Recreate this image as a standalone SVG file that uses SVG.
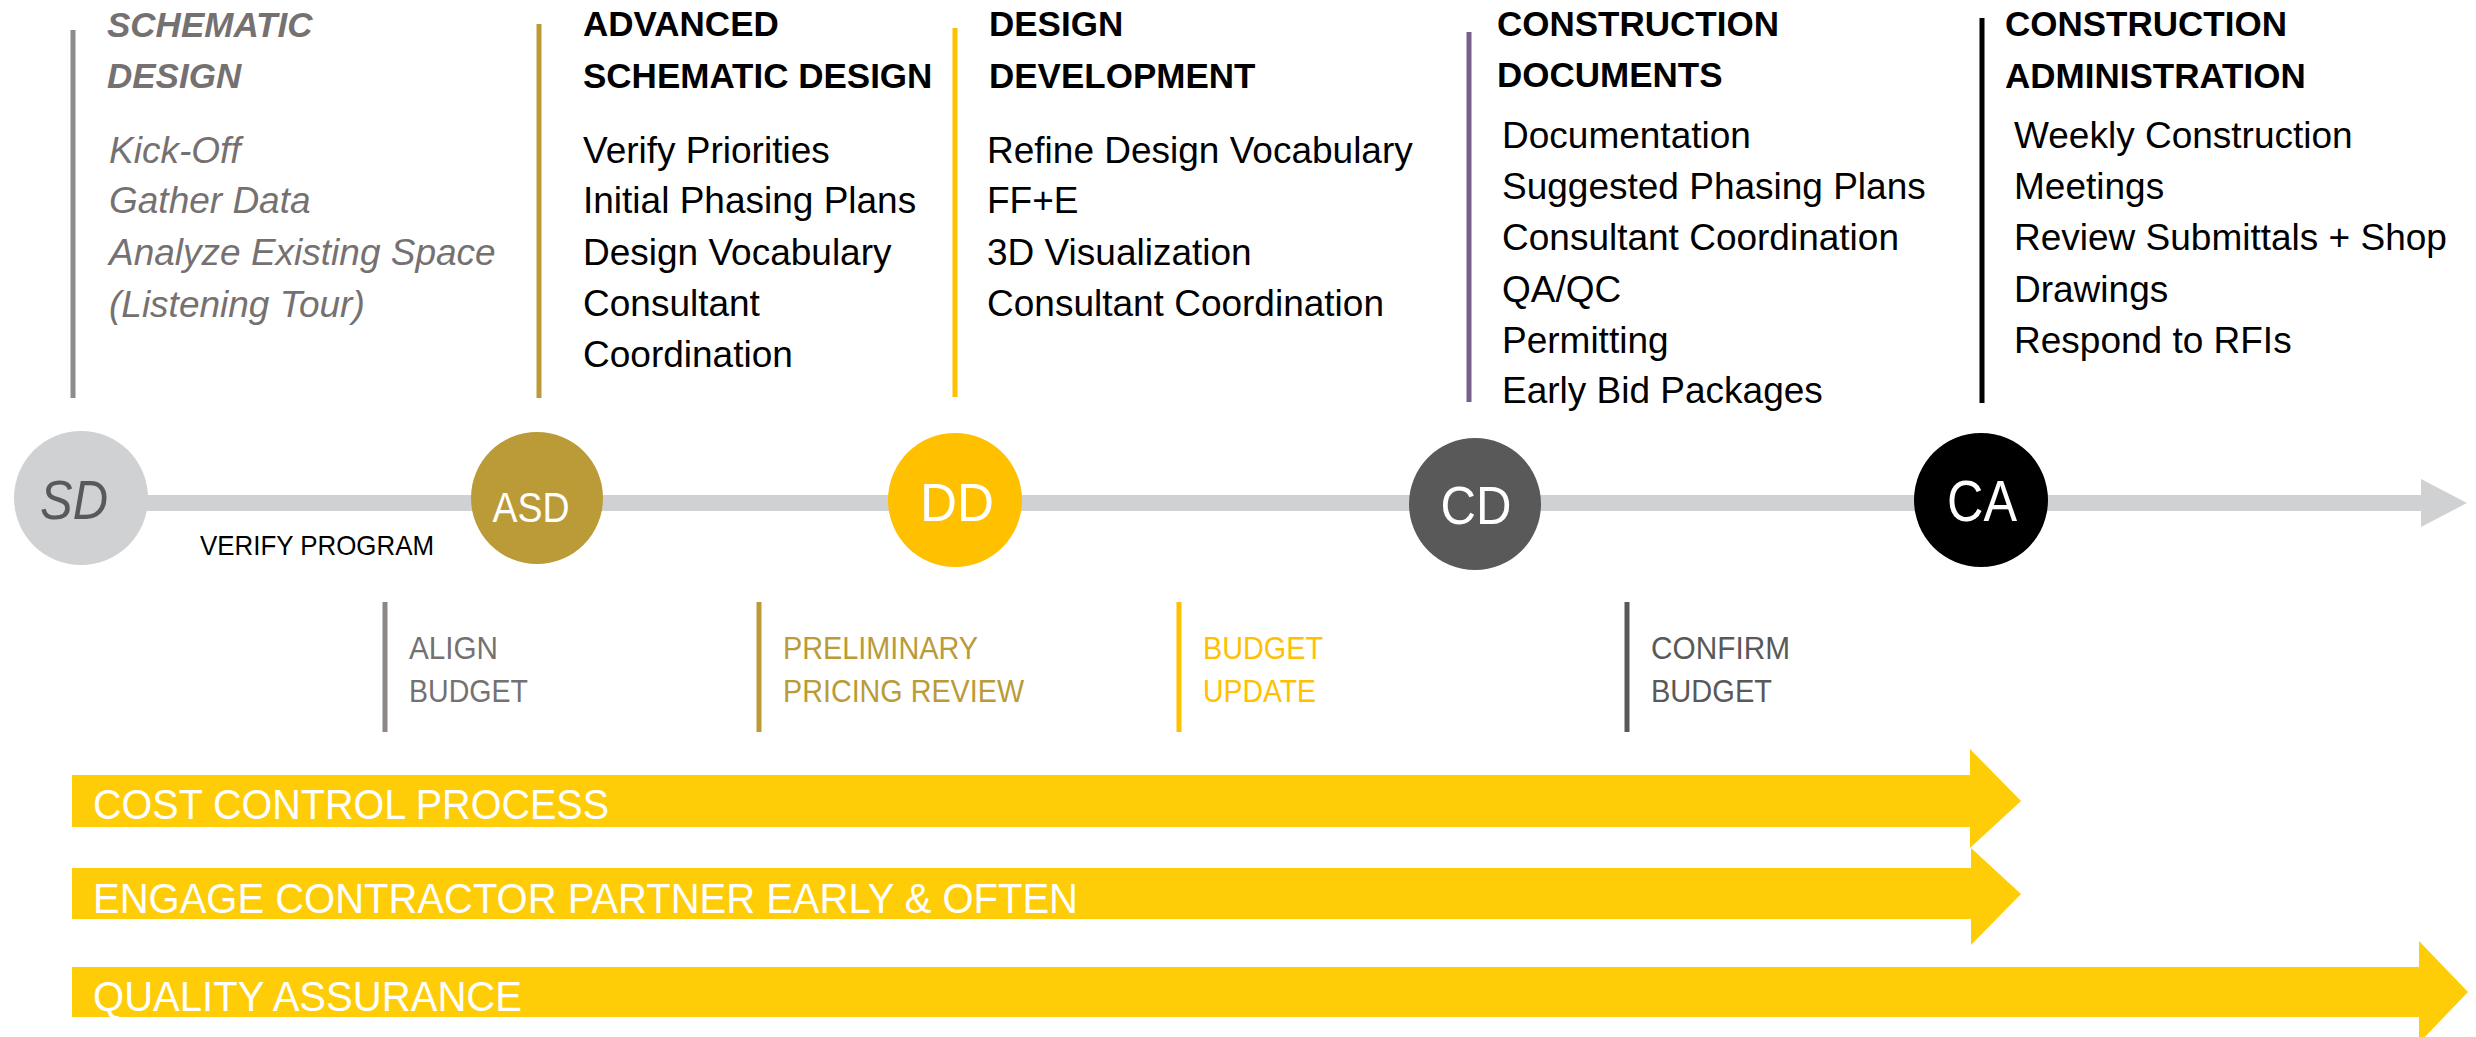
<svg xmlns="http://www.w3.org/2000/svg" width="2476" height="1037" viewBox="0 0 2476 1037">
<style>
text{font-family:"Liberation Sans",Arial,sans-serif}
.hd{font-size:35px;font-weight:bold;fill:#000}
.bd{font-size:37px;fill:#000}
.sdh{font-size:35px;font-weight:bold;font-style:italic;fill:#767171}
.sdb{font-size:37px;font-style:italic;fill:#767171}
.vl{stroke-width:5;fill:none}
.bl{font-size:31px}
.bar{fill:#FFCC08}
.bt{font-size:43px;fill:#fff}
.ct{fill:#fff;text-anchor:middle}
</style>
<rect width="2476" height="1037" fill="#fff"/>
<g id="connectors">
<rect x="81" y="495" width="2342" height="16" fill="#D0D1D3"/>
<polygon points="2421,479 2467,503 2421,527" fill="#D0D1D3"/>
<text x="200" y="555" style="font-size:28px;fill:#000" textLength="234" lengthAdjust="spacingAndGlyphs">VERIFY PROGRAM</text>
</g>
<g id="phase-sd">
<line class="vl" x1="73" y1="30" x2="73" y2="398" stroke="#8C8C8C"/>
<text class="sdh" x="107" y="37">SCHEMATIC</text>
<text class="sdh" x="107" y="88">DESIGN</text>
<text class="sdb" x="109" y="163">Kick-Off</text>
<text class="sdb" x="109" y="213">Gather Data</text>
<text class="sdb" x="109" y="265">Analyze Existing Space</text>
<text class="sdb" x="109" y="317">(Listening Tour)</text>
</g>
<g id="phase-asd">
<line class="vl" x1="539" y1="24" x2="539" y2="398" stroke="#BA9B37"/>
<text class="hd" x="583" y="36">ADVANCED</text>
<text class="hd" x="583" y="88">SCHEMATIC DESIGN</text>
<text class="bd" x="583" y="163">Verify Priorities</text>
<text class="bd" x="583" y="213">Initial Phasing Plans</text>
<text class="bd" x="583" y="265">Design Vocabulary</text>
<text class="bd" x="583" y="316">Consultant</text>
<text class="bd" x="583" y="367">Coordination</text>
</g>
<g id="phase-dd">
<line class="vl" x1="955" y1="28" x2="955" y2="397" stroke="#FFC000"/>
<text class="hd" x="989" y="36">DESIGN</text>
<text class="hd" x="989" y="88">DEVELOPMENT</text>
<text class="bd" x="987" y="163">Refine Design Vocabulary</text>
<text class="bd" x="987" y="213">FF+E</text>
<text class="bd" x="987" y="265">3D Visualization</text>
<text class="bd" x="987" y="316">Consultant Coordination</text>
</g>
<g id="phase-cd">
<line class="vl" x1="1469" y1="32" x2="1469" y2="402" stroke="#76608A"/>
<text class="hd" x="1497" y="36">CONSTRUCTION</text>
<text class="hd" x="1497" y="87">DOCUMENTS</text>
<text class="bd" x="1502" y="148">Documentation</text>
<text class="bd" x="1502" y="199">Suggested Phasing Plans</text>
<text class="bd" x="1502" y="250">Consultant Coordination</text>
<text class="bd" x="1502" y="302">QA/QC</text>
<text class="bd" x="1502" y="353">Permitting</text>
<text class="bd" x="1502" y="403">Early Bid Packages</text>
</g>
<g id="phase-ca">
<line class="vl" x1="1982" y1="18" x2="1982" y2="403" stroke="#000"/>
<text class="hd" x="2005" y="36">CONSTRUCTION</text>
<text class="hd" x="2005" y="88">ADMINISTRATION</text>
<text class="bd" x="2014" y="148">Weekly Construction</text>
<text class="bd" x="2014" y="199">Meetings</text>
<text class="bd" x="2014" y="250">Review Submittals + Shop</text>
<text class="bd" x="2014" y="302">Drawings</text>
<text class="bd" x="2014" y="353">Respond to RFIs</text>
</g>
<g id="node-sd">
<circle cx="81" cy="498" r="67" fill="#D0D1D3"/>
<text x="74" y="519" style="font-size:56px;font-style:italic;fill:#595959;text-anchor:middle" textLength="68" lengthAdjust="spacingAndGlyphs">SD</text>
</g>
<g id="node-asd">
<circle cx="537" cy="498" r="66" fill="#BA9B37"/>
<text class="ct" x="531" y="522" style="font-size:42px" textLength="77" lengthAdjust="spacingAndGlyphs">ASD</text>
</g>
<g id="node-dd">
<circle cx="955" cy="500" r="67" fill="#FFC000"/>
<text class="ct" x="957" y="521" style="font-size:54px" textLength="74" lengthAdjust="spacingAndGlyphs">DD</text>
</g>
<g id="node-cd">
<circle cx="1475" cy="504" r="66" fill="#595959"/>
<text class="ct" x="1476" y="524" style="font-size:54px" textLength="71" lengthAdjust="spacingAndGlyphs">CD</text>
</g>
<g id="node-ca">
<circle cx="1981" cy="500" r="67" fill="#000"/>
<text class="ct" x="1982" y="521" style="font-size:57px" textLength="70" lengthAdjust="spacingAndGlyphs">CA</text>
</g>
<g id="budget-align">
<line class="vl" x1="385" y1="602" x2="385" y2="732" stroke="#8C8785" stroke-width="4"/>
<text class="bl" x="409" y="659" fill="#767171" textLength="89" lengthAdjust="spacingAndGlyphs">ALIGN</text>
<text class="bl" x="409" y="702" fill="#767171" textLength="119" lengthAdjust="spacingAndGlyphs">BUDGET</text>
</g>
<g id="budget-prelim">
<line class="vl" x1="759" y1="602" x2="759" y2="732" stroke="#BA9B37" stroke-width="4"/>
<text class="bl" x="783" y="659" fill="#BA9B37" textLength="195" lengthAdjust="spacingAndGlyphs">PRELIMINARY</text>
<text class="bl" x="783" y="702" fill="#BA9B37" textLength="241" lengthAdjust="spacingAndGlyphs">PRICING REVIEW</text>
</g>
<g id="budget-update">
<line class="vl" x1="1179" y1="602" x2="1179" y2="732" stroke="#FFC000" stroke-width="4"/>
<text class="bl" x="1203" y="659" fill="#FFC000" textLength="120" lengthAdjust="spacingAndGlyphs">BUDGET</text>
<text class="bl" x="1203" y="702" fill="#FFC000" textLength="113" lengthAdjust="spacingAndGlyphs">UPDATE</text>
</g>
<g id="budget-confirm">
<line class="vl" x1="1627" y1="602" x2="1627" y2="732" stroke="#595959" stroke-width="4"/>
<text class="bl" x="1651" y="659" fill="#595959" textLength="139" lengthAdjust="spacingAndGlyphs">CONFIRM</text>
<text class="bl" x="1651" y="702" fill="#595959" textLength="121" lengthAdjust="spacingAndGlyphs">BUDGET</text>
</g>
<g id="bar-cost">
<polygon class="bar" points="72,775 1970,775 1970,749 2021,801 1970,848 1970,827 72,827"/>
<text class="bt" x="93" y="819" textLength="516" lengthAdjust="spacingAndGlyphs">COST CONTROL PROCESS</text>
</g>
<g id="bar-engage">
<polygon class="bar" points="72,868 1971,868 1971,848 2021,894 1971,945 1971,919 72,919"/>
<text class="bt" x="93" y="913" textLength="985" lengthAdjust="spacingAndGlyphs">ENGAGE CONTRACTOR PARTNER EARLY &amp; OFTEN</text>
</g>
<g id="bar-qa">
<polygon class="bar" points="72,967 2419,967 2419,941 2468,992 2419,1043 2419,1017 72,1017"/>
<text class="bt" x="93" y="1011" textLength="429" lengthAdjust="spacingAndGlyphs">QUALITY ASSURANCE</text>
</g>
</svg>
